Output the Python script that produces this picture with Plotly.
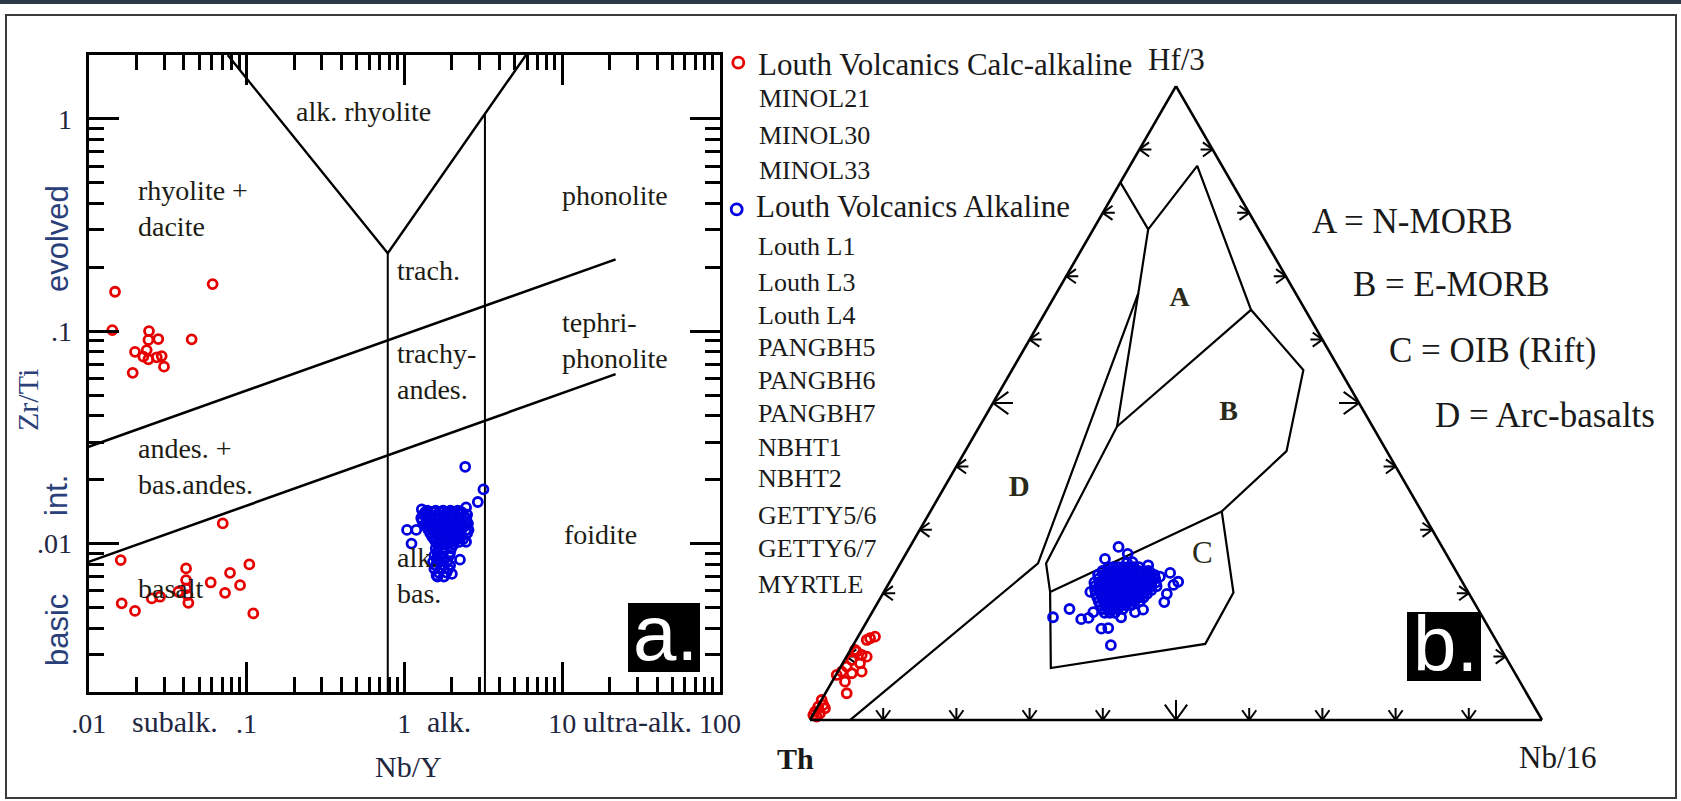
import math
import plotly.graph_objects as go

W, H = 1681, 801
S3 = math.sqrt(3)

# ---------------- Panel a: Zr/Ti vs Nb/Y ----------------
calc_nby = [0.01468, 0.0610, 0.01411, 0.0449, 0.0241, 0.0276, 0.0239, 0.01965, 0.0233, 0.0222,
            0.0239, 0.0270, 0.0290, 0.0300, 0.0190, 0.0099, 0.01595, 0.0707, 0.0414, 0.1042,
            0.0786, 0.0593, 0.0910, 0.0731, 0.0414, 0.0414, 0.0422, 0.0428, 0.0283, 0.0251,
            0.01618, 0.01965, 0.1104, 0.0370]
calc_zrti = [0.1535, 0.1668, 0.1013, 0.0916, 0.1002, 0.0919, 0.0910, 0.0800, 0.0815, 0.0759,
             0.0738, 0.0754, 0.0764, 0.0681, 0.0637, 0.00984, 0.00836, 0.01245, 0.00764, 0.00798,
             0.00728, 0.00656, 0.00637, 0.00586, 0.00673, 0.00615, 0.00572, 0.00526, 0.00562, 0.00552,
             0.00523, 0.00482, 0.00469, 0.00593]

# alkaline samples: scattered ones
alk_out_nby = [2.43, 3.17, 2.92, 2.46, 1.29, 1.04, 1.19, 1.11, 2.55, 2.46, 2.25, 2.00, 1.60]
alk_out_zrti = [0.0230, 0.0180, 0.0157, 0.0148, 0.0145, 0.0116, 0.0116, 0.0100, 0.0116, 0.0102,
                0.0084, 0.0072, 0.0071]
# alkaline samples: dense cluster, grouped by Zr/Ti value
alk_row_zrti = [0.0143, 0.0141, 0.0137, 0.0132, 0.0128, 0.0124, 0.0120, 0.0116, 0.0112, 0.0108, 0.0105,
                0.0102, 0.0099, 0.0095, 0.0091, 0.0088, 0.0085, 0.0082, 0.0079, 0.0076, 0.0073, 0.0070]
alk_row_nby = [
    [1.40, 1.58, 1.76, 1.96, 2.18],
    [1.36, 1.50, 1.68, 1.87, 2.07, 2.29],
    [1.32, 1.46, 1.63, 1.82, 2.02, 2.26, 2.50],
    [1.28, 1.42, 1.58, 1.78, 1.98, 2.23, 2.46],
    [1.30, 1.45, 1.62, 1.82, 2.02, 2.26, 2.48],
    [1.36, 1.50, 1.68, 1.87, 2.07, 2.29, 2.53],
    [1.39, 1.54, 1.72, 1.92, 2.14, 2.38],
    [1.42, 1.58, 1.78, 1.98, 2.23, 2.46],
    [1.46, 1.63, 1.82, 2.02, 2.26, 2.50],
    [1.50, 1.68, 1.87, 2.07, 2.29],
    [1.54, 1.72, 1.92, 2.14, 2.36],
    [1.58, 1.78, 1.98, 2.23],
    [1.63, 1.82, 2.05],
    [1.58, 1.78, 1.98],
    [1.62, 1.76, 1.95],
    [1.55, 1.70, 1.93],
    [1.60, 1.75],
    [1.52, 1.68, 1.87],
    [1.58, 1.78, 1.95],
    [1.55, 1.70, 1.90],
    [1.65, 1.85],
    [1.62, 1.78],
]

# field boundaries (Nb/Y, Zr/Ti)
bnd_upper_x, bnd_upper_y = [0.01, 21.8], [0.0286, 0.218]
bnd_lower_x, bnd_lower_y = [0.01, 21.8], [0.0082, 0.0628]
bnd_v_x, bnd_v_y = [0.076, 0.785, 5.9], [2.0, 0.233, 2.0]
bnd_trach_x, bnd_trach_y = [0.785, 0.785], [0.233, 0.002]
bnd_alk_x, bnd_alk_y = [3.24, 3.24], [1.055, 0.002]

x_tickvals = [0.01, 0.1, 1, 10, 100]
x_ticktext = [".01", ".1", "1", "10", "100"]
y_tickvals = [0.01, 0.1, 1]
y_ticktext = [".01", ".1", "1"]

field_names = ["alk. rhyolite", "rhyolite +<br>dacite", "phonolite", "trach.", "tephri-<br>phonolite",
               "trachy-<br>andes.", "andes. +<br>bas.andes.", "foidite", "alk.<br>bas.", "basalt"]
field_nby = [0.551, 0.0199, 9.7, 0.873, 9.7, 0.873, 0.0199, 10.0, 0.873, 0.0199]
field_zrti = [1.08, 0.380, 0.4335, 0.193, 0.0909, 0.0646, 0.0231, 0.01109, 0.00704, 0.00617]

# ---------------- Panel b: Th - Hf/3 - Nb/16 ----------------
calc_hf3 = [0.1289, 0.1314, 0.1262, 0.1077, 0.1025, 0.0998, 0.0946, 0.0894, 0.0841, 0.0762,
            0.0737, 0.0762, 0.0710, 0.0604, 0.0421, 0.1104, 0.0131, 0.0210, 0.0315, 0.0237,
            0.0079, 0.0106, 0.0185, 0.0052]
calc_nb16 = [0.0176, 0.0231, 0.0144, 0.0100, 0.0194, 0.0276, 0.0097, 0.0236, 0.0081, 0.0052,
             0.0202, 0.0325, 0.0010, 0.0176, 0.0291, 0.0063, 0.0003, 0.0008, 0.0002, 0.0064,
             0.0006, 0.0084, 0.0112, 0.0066]

alkt_out_hf3 = [0.273, 0.262, 0.248, 0.249, 0.254, 0.244, 0.232, 0.218, 0.213, 0.199, 0.186, 0.162, 0.175,
                0.159, 0.161, 0.145, 0.118, 0.174, 0.170, 0.202, 0.226, 0.233, 0.144, 0.170, 0.162]
alkt_out_nb16 = [0.285, 0.303, 0.309, 0.316, 0.276, 0.340, 0.376, 0.394, 0.390, 0.388, 0.391, 0.251, 0.267,
                 0.291, 0.300, 0.335, 0.352, 0.368, 0.359, 0.282, 0.365, 0.348, 0.326, 0.302, 0.344]
alkt_row_hf3 = [0.241, 0.235, 0.229, 0.223, 0.217, 0.211, 0.205, 0.199, 0.193, 0.187, 0.181, 0.175, 0.169]
alkt_row_nb16 = [
    [0.287, 0.294, 0.301, 0.308, 0.315, 0.322, 0.329],
    [0.282, 0.289, 0.296, 0.303, 0.310, 0.317, 0.324, 0.331, 0.338, 0.345],
    [0.279, 0.286, 0.293, 0.300, 0.307, 0.314, 0.321, 0.328, 0.335, 0.342, 0.349, 0.356],
    [0.283, 0.290, 0.297, 0.304, 0.311, 0.318, 0.325, 0.332, 0.339, 0.346, 0.353, 0.360],
    [0.280, 0.287, 0.294, 0.301, 0.308, 0.315, 0.322, 0.329, 0.336, 0.343, 0.350, 0.357, 0.364],
    [0.284, 0.291, 0.298, 0.305, 0.312, 0.319, 0.326, 0.333, 0.340, 0.347, 0.354, 0.361, 0.368],
    [0.287, 0.294, 0.301, 0.308, 0.315, 0.322, 0.329, 0.336, 0.343, 0.350, 0.357, 0.364],
    [0.291, 0.298, 0.305, 0.312, 0.319, 0.326, 0.333, 0.340, 0.347, 0.354, 0.361],
    [0.296, 0.303, 0.310, 0.317, 0.324, 0.331, 0.338, 0.345, 0.352, 0.359],
    [0.301, 0.308, 0.315, 0.322, 0.329, 0.336, 0.343, 0.350, 0.357],
    [0.306, 0.313, 0.320, 0.327, 0.334, 0.341, 0.348],
    [0.312, 0.319, 0.326, 0.333, 0.340],
    [0.318, 0.325, 0.332],
]

# Wood (1980) field boundaries, (Hf/3, Nb/16)
tf_main_hf3 = [0.848, 0.774, 0.874, 0.647, 0.552, 0.424, 0.329, 0.201, 0.120, 0.082, 0.202, 0.247, 0.463, 0.673, 0.774]
tf_main_nb16 = [0.000, 0.075, 0.092, 0.279, 0.398, 0.439, 0.398, 0.478, 0.480, 0.288, 0.227, 0.199, 0.188, 0.112, 0.075]
tf_d_hf3 = [0.673, 0.247, 0.0]
tf_d_nb16 = [0.112, 0.188, 0.055]
tf_ab_hf3 = [0.647, 0.463]
tf_ab_nb16 = [0.279, 0.188]
tf_bc_hf3 = [0.202, 0.329]
tf_bc_nb16 = [0.227, 0.398]

tf_label_text = ["<b>A</b>", "<b>B</b>", "C", "<b>D</b>"]
tf_label_hf3 = [0.664, 0.484, 0.260, 0.364]
tf_label_nb16 = [0.173, 0.330, 0.406, 0.104]

legend_calc = ["MINOL21", "MINOL30", "MINOL33"]
legend_alk = ["Louth L1", "Louth L3", "Louth L4", "PANGBH5", "PANGBH6", "PANGBH7",
              "NBHT1", "NBHT2", "GETTY5/6", "GETTY6/7", "MYRTLE"]
field_key = ["A = N-MORB", "B = E-MORB", "C = OIB (Rift)", "D = Arc-basalts"]

# ---------------- build ----------------
RED = "#e60000"
BLUE = "#0000e0"
SERIF = "Liberation Serif, Times New Roman, serif"
SANS = "Liberation Sans, Arial, sans-serif"


def P(X, Y):
    return X / W, 1 - Y / H


fig = go.Figure()

for xs, ys, lw in [(bnd_upper_x, bnd_upper_y, 2.6), (bnd_lower_x, bnd_lower_y, 2.6),
                   (bnd_v_x, bnd_v_y, 2.4), (bnd_trach_x, bnd_trach_y, 2.0), (bnd_alk_x, bnd_alk_y, 2.0)]:
    fig.add_trace(go.Scatter(x=xs, y=ys, mode="lines", line=dict(color="black", width=lw),
                             hoverinfo="skip", showlegend=False, xaxis="x", yaxis="y"))

alk_nby = list(alk_out_nby)
alk_zrti = list(alk_out_zrti)
for zr, row in zip(alk_row_zrti, alk_row_nby):
    alk_nby += row
    alk_zrti += [zr] * len(row)

mk = dict(symbol="circle-open", size=9)
MLW = 2.8
fig.add_trace(go.Scatter(x=calc_nby, y=calc_zrti, mode="markers", name="Louth Volcanics Calc-alkaline",
                         marker=dict(**mk, color=RED, line=dict(color=RED, width=MLW)),
                         cliponaxis=False, showlegend=False))
fig.add_trace(go.Scatter(x=alk_nby, y=alk_zrti, mode="markers", name="Louth Volcanics Alkaline",
                         marker=dict(**mk, color=BLUE, line=dict(color=BLUE, width=MLW)),
                         cliponaxis=False, showlegend=False))


def tern_line(hf, nb, lw=2.2):
    th = [1 - a - c for a, c in zip(hf, nb)]
    fig.add_trace(go.Scatterternary(a=hf, b=th, c=nb, mode="lines", line=dict(color="black", width=lw),
                                    hoverinfo="skip", showlegend=False, cliponaxis=False))


tern_line(tf_main_hf3, tf_main_nb16)
tern_line(tf_d_hf3, tf_d_nb16)
tern_line(tf_ab_hf3, tf_ab_nb16)
tern_line(tf_bc_hf3, tf_bc_nb16)


# arrow-style ternary ticks every 10 %
def to_tern(x, y):
    a = 2 * y / S3
    c = x - a / 2
    return a, 1 - a - c, c


ta, tb, tc = [], [], []
ang = math.radians(36)
for i in range(1, 10):
    t = i / 10
    big = (i == 5)
    ls = (20 if big else 12) / 732
    la = (19 if big else 12) / 732
    segs = []
    x0, y0 = t, 0.0
    segs += [((x0, y0), (x0, y0 + ls)),
             ((x0, y0), (x0 - la * math.sin(ang), y0 + la * math.cos(ang))),
             ((x0, y0), (x0 + la * math.sin(ang), y0 + la * math.cos(ang)))]
    x0, y0 = t / 2, t * S3 / 2
    segs += [((x0, y0), (x0 + ls, y0)),
             ((x0, y0), (x0 + la * math.cos(ang), y0 + la * math.sin(ang))),
             ((x0, y0), (x0 + la * math.cos(ang), y0 - la * math.sin(ang)))]
    x0, y0 = 1 - t / 2, t * S3 / 2
    segs += [((x0, y0), (x0 - ls, y0)),
             ((x0, y0), (x0 - la * math.cos(ang), y0 + la * math.sin(ang))),
             ((x0, y0), (x0 - la * math.cos(ang), y0 - la * math.sin(ang)))]
    for p, q in segs:
        for pt in (p, q):
            a, b, c = to_tern(*pt)
            ta.append(max(a, 0)); tb.append(max(b, 0)); tc.append(max(c, 0))
        ta.append(None); tb.append(None); tc.append(None)
fig.add_trace(go.Scatterternary(a=ta, b=tb, c=tc, mode="lines", line=dict(color="black", width=2.0),
                                connectgaps=False, hoverinfo="skip", showlegend=False, cliponaxis=False))

fig.add_trace(go.Scatterternary(a=tf_label_hf3, b=[1 - a - c for a, c in zip(tf_label_hf3, tf_label_nb16)],
                                c=tf_label_nb16, mode="text", text=tf_label_text,
                                textfont=dict(family=SERIF, size=[28, 28, 31, 29], color="#2a2a1a"),
                                hoverinfo="skip", showlegend=False, cliponaxis=False))

alkt_hf3 = list(alkt_out_hf3)
alkt_nb16 = list(alkt_out_nb16)
for a, row in zip(alkt_row_hf3, alkt_row_nb16):
    alkt_hf3 += [a] * len(row)
    alkt_nb16 += row

fig.add_trace(go.Scatterternary(a=calc_hf3, b=[1 - a - c for a, c in zip(calc_hf3, calc_nb16)], c=calc_nb16,
                                mode="markers", marker=dict(**mk, color=RED, line=dict(color=RED, width=MLW)),
                                showlegend=False, cliponaxis=False))
fig.add_trace(go.Scatterternary(a=alkt_hf3, b=[1 - a - c for a, c in zip(alkt_hf3, alkt_nb16)], c=alkt_nb16,
                                mode="markers", marker=dict(**mk, color=BLUE, line=dict(color=BLUE, width=MLW)),
                                showlegend=False, cliponaxis=False))

x_minor = [k * 10 ** d for d in range(-2, 2) for k in range(2, 10)]
y_minor = [k * 10 ** d for d in range(-3, 1) for k in range(2, 10) if 0.002 <= k * 10 ** d < 2]

axis_common = dict(type="log", showline=True, mirror="allticks", linecolor="black", linewidth=3,
                   ticks="inside", ticklen=30, tickwidth=2.5, tickcolor="black", showgrid=False,
                   zeroline=False, tickmode="array",
                   tickfont=dict(family=SERIF, size=28, color="#1e2640"))

tern_axis = dict(showline=True, linecolor="black", linewidth=2.6, showgrid=False, ticks="",
                 showticklabels=False, title=dict(text=""), min=0)

fig.update_layout(
    width=W, height=H, template="none", paper_bgcolor="white", plot_bgcolor="white",
    margin=dict(l=0, r=0, t=0, b=0), showlegend=False,
    xaxis=dict(**axis_common, range=[-2, 2], domain=[88.7 / W, 720 / W], anchor="y",
               tickvals=x_tickvals, ticktext=x_ticktext, ticklabelstandoff=4,
               minor=dict(tickmode="array", tickvals=x_minor, ticks="inside", ticklen=15,
                          tickwidth=2.5, tickcolor="black", showgrid=False)),
    yaxis=dict(**axis_common, range=[math.log10(0.002), math.log10(2)], domain=[1 - 692 / H, 1 - 55 / H],
               anchor="x", tickvals=y_tickvals, ticktext=y_ticktext, ticklabelstandoff=8,
               minor=dict(tickmode="array", tickvals=y_minor, ticks="inside", ticklen=15,
                          tickwidth=2.5, tickcolor="black", showgrid=False)),
    ternary=dict(domain=dict(x=[810 / W, 1542 / W], y=[1 - 720 / H, 1 - 86 / H]), sum=1, bgcolor="white",
                 aaxis=tern_axis, baxis=tern_axis, caxis=tern_axis),
)

shapes = []
shapes.append(dict(type="rect", xref="paper", yref="paper", x0=0, x1=1, y0=1 - 4 / H, y1=1,
                   fillcolor="#2c3a48", line=dict(width=0), layer="above"))
x0, y0 = P(6, 798)
x1, y1 = P(1676, 15)
shapes.append(dict(type="rect", xref="paper", yref="paper", x0=x0, x1=x1, y0=y0, y1=y1,
                   line=dict(color="#3a3a3a", width=2), fillcolor="rgba(0,0,0,0)", layer="below"))
for (bx0, by0, bx1, by1) in [(628, 603, 700, 672), (1407, 612, 1481, 681)]:
    a0, b0 = P(bx0, by1)
    a1, b1 = P(bx1, by0)
    shapes.append(dict(type="rect", xref="paper", yref="paper", x0=a0, x1=a1, y0=b0, y1=b1,
                       fillcolor="black", line=dict(width=0), layer="above"))
for (cx, cy, col) in [(738.3, 62.7, RED), (736.7, 209.3, BLUE)]:
    a0, b0 = P(cx - 5.5, cy + 5.5)
    a1, b1 = P(cx + 5.5, cy - 5.5)
    shapes.append(dict(type="circle", xref="paper", yref="paper", x0=a0, x1=a1, y0=b0, y1=b1,
                       line=dict(color=col, width=2.8), layer="above"))
fig.update_layout(shapes=shapes)

ann = []


def pa(text, X, Y, size, family=SERIF, color="#1a1a1a", xanchor="center", yanchor="middle", angle=0):
    x, y = P(X, Y)
    ann.append(dict(text=text, x=x, y=y, xref="paper", yref="paper", showarrow=False,
                    xanchor=xanchor, yanchor=yanchor, textangle=angle,
                    font=dict(family=family, size=size, color=color)))


for name, xv, yv in zip(field_names, field_nby, field_zrti):
    ann.append(dict(text=name, x=math.log10(xv), y=math.log10(yv), xref="x", yref="y", showarrow=False,
                    xanchor="center" if name == "alk. rhyolite" else "left", yanchor="middle", align="left",
                    font=dict(family=SERIF, size=28, color="#1c1c14")))

pa("subalk.", 175, 721, 30, color="#1e2640")
pa("alk.", 448.5, 721, 30, color="#1e2640")
pa("ultra-alk.", 637, 721, 30, color="#1e2640")
pa("Nb/Y", 408, 766, 30, color="#1e2640")
pa("Zr/Ti", 27, 400, 30, color="#2b3f7a", angle=-90)
pa("evolved", 57, 239, 31, family=SANS, color="#2b3f7a", angle=-90)
pa("int.", 57, 496, 31, family=SANS, color="#2b3f7a", angle=-90)
pa("basic", 57, 630, 31, family=SANS, color="#2b3f7a", angle=-90)

pa("a.", 665, 633, 78, family=SANS, color="white")
pa("b.", 1445, 644, 78, family=SANS, color="white")

pa("Louth Volcanics Calc-alkaline", 756, 65, 31, xanchor="left", color="#1a1a1a")
for name, yy in zip(legend_calc, [98.5, 135.5, 170.5]):
    pa(name, 757, yy, 26, xanchor="left", color="#1a1a1a")
pa("Louth Volcanics Alkaline", 754, 207, 31, xanchor="left", color="#1a1a1a")
for name, yy in zip(legend_alk, [247, 282, 315.5, 347.5, 380.5, 413, 447, 478.5, 515, 548, 584]):
    pa(name, 756, yy, 26, xanchor="left", color="#1a1a1a")

pa("Hf/3", 1176, 60, 31)
pa("<b>Th</b>", 795, 758, 30)
pa("Nb/16", 1558, 757, 31)
for txt, X, Y in zip(field_key, [1310, 1351, 1387, 1433], [221, 284, 351, 415]):
    pa(txt, X, Y, 35, xanchor="left")

fig.update_layout(annotations=ann)

fig.write_html("out.html", config={"displayModeBar": False},
               post_script="document.body.style.margin='0px';document.body.style.overflow='hidden';")
